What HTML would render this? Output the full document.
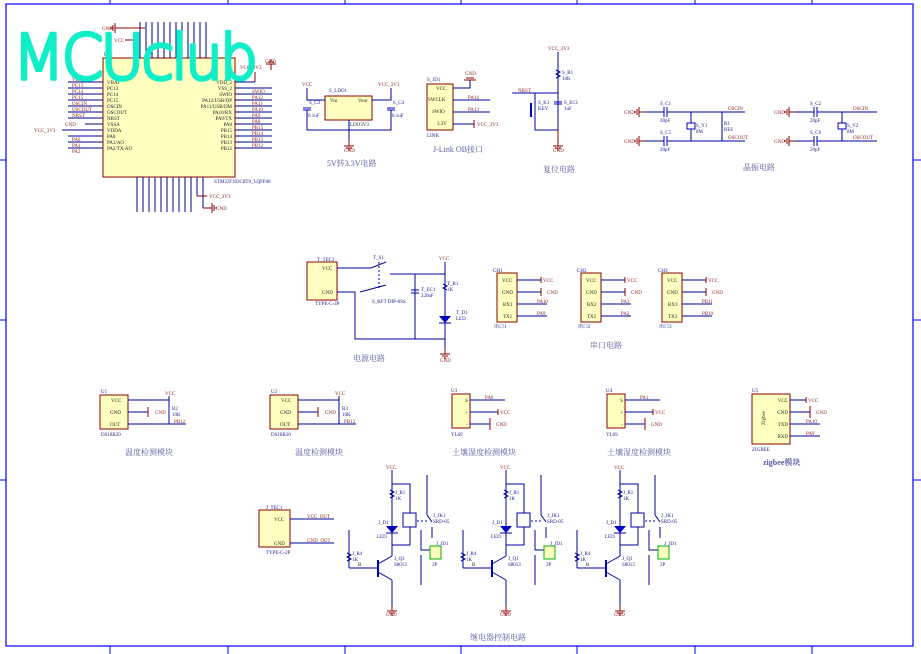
<!DOCTYPE html>
<html><head><meta charset="utf-8"><style>
html,body{margin:0;padding:0;background:#fff;width:921px;height:654px;overflow:hidden}
svg{display:block}
text{font-family:"Liberation Serif","Noto Serif CJK SC",serif}
.r{fill:#8b1a1a;font-size:5px}
.b{fill:#1a1a8b;font-size:5px}
.k{fill:#222;font-size:5px}
.t{fill:#5a5aa0;font-size:8px}
.w{stroke:#0000a0;stroke-width:1;fill:none}
.p{stroke:#000080;stroke-width:1}
.rd{stroke:#8b0000;stroke-width:1;fill:none}
.box{fill:#ffffc0;stroke:#8b0000;stroke-width:1}
</style></head><body>
<svg width="921" height="654" viewBox="0 0 921 654">
<defs>
<g id="gndv"><line x1="0" y1="0" x2="0" y2="6" class="rd"/><line x1="-5" y1="6" x2="5" y2="6" class="rd"/><line x1="-3" y1="8" x2="3" y2="8" class="rd"/><line x1="-1" y1="10" x2="1" y2="10" class="rd"/></g>
<g id="gndh"><line x1="0" y1="0" x2="-6" y2="0" class="rd"/><line x1="-6" y1="-5" x2="-6" y2="5" class="rd"/><line x1="-8" y1="-3" x2="-8" y2="3" class="rd"/><line x1="-10" y1="-1" x2="-10" y2="1" class="rd"/></g>
<g id="gndr"><line x1="0" y1="0" x2="6" y2="0" class="rd"/><line x1="6" y1="-5" x2="6" y2="5" class="rd"/><line x1="8" y1="-3" x2="8" y2="3" class="rd"/><line x1="10" y1="-1" x2="10" y2="1" class="rd"/></g>
<g id="relay">
<text x="386" y="469" class="r">VCC</text>
<line x1="392" y1="470" x2="392" y2="548" class="w"/>
<polyline points="392,484 410,484 410,513" class="w"/>
<rect x="403" y="513" width="13" height="14" fill="none" stroke="#0000a0"/>
<polyline points="410,527 410,545 392,545" class="w"/>
<path d="M390,490 l4,2 l-4,2 l4,2 l-4,2" class="w"/>
<text x="395" y="494" class="b">J_R1</text><text x="395" y="500" class="b">1K</text>
<path d="M386,526 h12 l-6,7 z" fill="#0000c0"/><line x1="386" y1="533" x2="398" y2="533" class="w"/>
<text x="378" y="524" class="b">J_D1</text><text x="377" y="538" class="b">LED</text>
<line x1="378" y1="560" x2="378" y2="577" stroke="#0000c0" stroke-width="2"/>
<line x1="349" y1="530" x2="349" y2="568" class="w"/><line x1="349" y1="568" x2="378" y2="568" class="w"/>
<path d="M347,553 l4,2 l-4,2 l4,2 l-4,2" class="w"/>
<text x="352" y="555" class="b">J_R4</text><text x="352" y="561" class="b">1K</text><text x="358" y="566" class="k">B</text>
<line x1="378" y1="564" x2="392" y2="556" class="w"/><line x1="392" y1="556" x2="392" y2="545" class="w"/>
<line x1="378" y1="572" x2="392" y2="580" class="w"/><line x1="392" y1="580" x2="392" y2="605" class="w"/>
<use href="#gndv" x="392" y="605"/><text x="386" y="616" class="r">GND</text>
<text x="394" y="560" class="b">J_Q1</text><text x="394" y="566" class="b">S8013</text>
<line x1="427" y1="475" x2="427" y2="515" class="w"/><line x1="427" y1="515" x2="432" y2="522" class="w"/>
<line x1="417" y1="521" x2="428" y2="521" stroke="#0000c0" stroke-dasharray="2,2"/>
<line x1="432" y1="527" x2="432" y2="538" class="w"/>
<text x="433" y="517" class="b">J_JK1</text><text x="433" y="523" class="b">SRD-05</text>
<polyline points="421,530 421,550 430,550" class="w"/><polyline points="421,555 421,585" class="w"/>
<rect x="430" y="546" width="11" height="13" fill="#ffffc0" stroke="#00b000"/>
<text x="436" y="545" class="b">J_JD1</text><text x="432" y="566" class="b">2P</text>
</g>
</defs>
<!-- frame -->
<rect x="6" y="4" width="907" height="642" fill="none" stroke="#0000ff" stroke-width="1.2"/>
<g stroke="#0000ff" stroke-width="1">
<line x1="110" y1="0" x2="110" y2="4"/><line x1="228" y1="0" x2="228" y2="4"/><line x1="345" y1="0" x2="345" y2="4"/><line x1="461" y1="0" x2="461" y2="4"/><line x1="577" y1="0" x2="577" y2="4"/><line x1="695" y1="0" x2="695" y2="4"/><line x1="812" y1="0" x2="812" y2="4"/>
<line x1="110" y1="646" x2="110" y2="654"/><line x1="228" y1="646" x2="228" y2="654"/><line x1="345" y1="646" x2="345" y2="654"/><line x1="461" y1="646" x2="461" y2="654"/><line x1="577" y1="646" x2="577" y2="654"/><line x1="695" y1="646" x2="695" y2="654"/><line x1="812" y1="646" x2="812" y2="654"/>
<line x1="0" y1="160" x2="6" y2="160"/><line x1="0" y1="320" x2="6" y2="320"/><line x1="0" y1="480" x2="6" y2="480"/>
<line x1="913" y1="160" x2="921" y2="160"/><line x1="913" y1="320" x2="921" y2="320"/><line x1="913" y1="480" x2="921" y2="480"/>
</g>
<!-- MCU -->
<rect x="103" y="58" width="132" height="119" class="box"/>
<text x="104" y="56" class="b">U1</text><text x="214" y="183" class="b">STM32F103C8T6_LQFP48</text>
<g class="p">
<line x1="68" y1="82" x2="103" y2="82"/><line x1="68" y1="88" x2="103" y2="88"/><line x1="68" y1="94" x2="103" y2="94"/><line x1="68" y1="100" x2="103" y2="100"/><line x1="68" y1="106" x2="103" y2="106"/><line x1="68" y1="112" x2="103" y2="112"/><line x1="68" y1="118" x2="103" y2="118"/><line x1="85" y1="124" x2="103" y2="124"/><line x1="62" y1="130" x2="103" y2="130"/><line x1="68" y1="136" x2="103" y2="136"/><line x1="68" y1="142" x2="103" y2="142"/><line x1="68" y1="148" x2="103" y2="148"/>
<line x1="235" y1="82" x2="255" y2="82"/><line x1="235" y1="88" x2="272" y2="88"/><line x1="235" y1="94" x2="272" y2="94"/><line x1="235" y1="100" x2="272" y2="100"/><line x1="235" y1="106" x2="272" y2="106"/><line x1="235" y1="112" x2="272" y2="112"/><line x1="235" y1="118" x2="272" y2="118"/><line x1="235" y1="124" x2="272" y2="124"/><line x1="235" y1="130" x2="272" y2="130"/><line x1="235" y1="136" x2="272" y2="136"/><line x1="235" y1="142" x2="272" y2="142"/><line x1="235" y1="148" x2="272" y2="148"/>
<line x1="140" y1="22" x2="140" y2="58"/><line x1="146" y1="22" x2="146" y2="58"/><line x1="152" y1="22" x2="152" y2="58"/><line x1="158" y1="22" x2="158" y2="58"/><line x1="164" y1="22" x2="164" y2="58"/><line x1="170" y1="22" x2="170" y2="58"/><line x1="176" y1="22" x2="176" y2="58"/><line x1="182" y1="22" x2="182" y2="58"/><line x1="188" y1="22" x2="188" y2="58"/><line x1="194" y1="22" x2="194" y2="58"/><line x1="200" y1="22" x2="200" y2="58"/><line x1="206" y1="22" x2="206" y2="58"/>
<line x1="137" y1="177" x2="137" y2="212"/><line x1="143" y1="177" x2="143" y2="212"/><line x1="149" y1="177" x2="149" y2="212"/><line x1="155" y1="177" x2="155" y2="212"/><line x1="161" y1="177" x2="161" y2="212"/><line x1="167" y1="177" x2="167" y2="212"/><line x1="173" y1="177" x2="173" y2="212"/><line x1="179" y1="177" x2="179" y2="212"/><line x1="185" y1="177" x2="185" y2="212"/><line x1="191" y1="177" x2="191" y2="212"/><line x1="197" y1="177" x2="197" y2="196"/><line x1="203" y1="177" x2="203" y2="208"/>
</g>
<polyline points="197,196 207,196" class="rd"/><text x="209" y="198" class="r">VCC_3V3</text>
<polyline points="203,208 208,208" class="rd"/><use href="#gndr" x="206" y="208"/><text x="216" y="210" class="r">GND</text>
<g class="k">
<text x="107" y="84">VBAT</text><text x="107" y="90">PC13</text><text x="107" y="96">PC14</text><text x="107" y="102">PC15</text><text x="107" y="108">OSCIN</text><text x="107" y="114">OSCOUT</text><text x="107" y="120">NRST</text><text x="107" y="126">VSSA</text><text x="107" y="132">VDDA</text><text x="107" y="138">PA0</text><text x="107" y="144">PA1/AO</text><text x="107" y="150">PA2/TX/AO</text>
<g text-anchor="end"><text x="232" y="84">VDD_2</text><text x="232" y="90">VSS_2</text><text x="232" y="96">SWIO</text><text x="232" y="102">PA12/USB/DP</text><text x="232" y="108">PA11/USB/DM</text><text x="232" y="114">PA10/RX</text><text x="232" y="120">PA9/TX</text><text x="232" y="126">PA8</text><text x="232" y="132">PB15</text><text x="232" y="138">PB14</text><text x="232" y="144">PB13</text><text x="232" y="150">PB12</text></g>
</g>
<g class="r">
<text x="72" y="81">VBAT</text><text x="72" y="87">PC13</text><text x="72" y="93">PC14</text><text x="72" y="99">PC15</text><text x="72" y="105">OSCIN</text><text x="72" y="111">OSCOUT</text><text x="72" y="117">NRST</text><text x="72" y="141">PA0</text><text x="72" y="147">PA1</text><text x="72" y="153">PA2</text>
<text x="34" y="132">VCC_3V3</text><text x="65" y="126">GND</text>
<text x="252" y="93">SWIO</text><text x="252" y="99">PA12</text><text x="252" y="105">PA11</text><text x="252" y="111">PA10</text><text x="252" y="117">PA9</text><text x="252" y="123">PA8</text><text x="252" y="129">PB15</text><text x="252" y="135">PB14</text><text x="252" y="141">PB13</text><text x="252" y="147">PB12</text>
<text x="240" y="69">VCC_3V3</text><text x="265" y="63">GND</text>
<text x="102" y="30">GND</text><text x="114" y="42">VCC</text>
</g>
<use href="#gndh" x="121" y="28"/><line x1="121" y1="28" x2="145" y2="28" class="rd"/>
<line x1="125" y1="40" x2="135" y2="40" class="rd"/>
<use href="#gndv" x="271" y="62" transform="rotate(180 271 66)"/>
<line x1="255" y1="82" x2="255" y2="72" class="rd"/>
<!-- MCUclub -->
<text x="13" y="79" style="font-family:'DejaVu Sans','Liberation Sans',sans-serif;font-size:62px;font-weight:300" fill="#10eec8" stroke="#10eec8" stroke-width="3.5" stroke-linejoin="round" letter-spacing="-3" textLength="242" lengthAdjust="spacingAndGlyphs">MCUclub</text>
<!-- LDO -->
<rect x="325" y="96" width="47" height="24" class="box"/>
<text x="329" y="92" class="b">S_LDO1</text><text x="330" y="102" class="k">Vin</text><text x="358" y="102" class="k">Vout</text><text x="350" y="126" class="k">LDO3V3</text>
<text x="302" y="86" class="r">VCC</text><text x="378" y="86" class="r">VCC_3V3</text>
<polyline points="307,88 307,100 325,100" class="w"/><polyline points="372,100 391,100 391,88" class="w"/>
<line x1="303" y1="108" x2="311" y2="108" stroke="#0000c0"/><line x1="303" y1="110" x2="311" y2="110" stroke="#0000c0"/>
<line x1="387" y1="108" x2="395" y2="108" stroke="#0000c0"/><line x1="387" y1="110" x2="395" y2="110" stroke="#0000c0"/>
<polyline points="307,110 307,130 391,130 391,110" class="w"/><line x1="349" y1="120" x2="349" y2="140" class="w"/>
<use href="#gndv" x="349" y="140"/><text x="344" y="152" class="r">GND</text>
<text x="309" y="104" class="b">S_C3</text><text x="308" y="117" class="b">0.1uF</text><text x="393" y="104" class="b">S_C4</text><text x="392" y="117" class="b">0.1uF</text>
<text x="327" y="166" class="t">5V转3.3V电路</text>
<!-- JLink -->
<rect x="427" y="84" width="26" height="46" class="box"/>
<text x="427" y="81" class="b">S_JD1</text><text x="427" y="137" class="b">LINK</text>
<g class="k"><text x="436" y="90">VCC</text><text x="428" y="101">SWCLK</text><text x="432" y="113">SWIO</text><text x="437" y="125">3.3V</text></g>
<polyline points="453,88 470,88 470,80" class="w"/><line x1="453" y1="100" x2="490" y2="100" class="w"/><line x1="453" y1="112" x2="490" y2="112" class="w"/><line x1="453" y1="124" x2="474" y2="124" class="w"/>
<line x1="464" y1="80" x2="476" y2="80" class="rd"/><line x1="466" y1="78" x2="474" y2="78" class="rd"/><text x="465" y="75" class="r">GND</text>
<text x="468" y="99" class="r">PA14</text><text x="468" y="111" class="r">PA13</text><line x1="474" y1="120" x2="474" y2="128" class="rd"/><text x="477" y="126" class="r">VCC_3V3</text>
<text x="433" y="152" class="t">J-Link OB接口</text>
<!-- Reset -->
<text x="548" y="50" class="r">VCC_3V3</text>
<line x1="558" y1="52" x2="558" y2="130" class="w"/><path d="M556,70 l4,2 l-4,2 l4,2 l-4,2" class="w"/>
<text x="562" y="74" class="b">S_R1</text><text x="562" y="80" class="b">10K</text>
<line x1="512" y1="93" x2="558" y2="93" class="w"/><text x="518" y="92" class="r">NRST</text>
<polyline points="535,93 535,130 558,130" class="w"/><line x1="531" y1="103" x2="531" y2="117" stroke="#0000c0" stroke-width="2"/>
<text x="538" y="104" class="b">S_K1</text><text x="538" y="110" class="b">KEY</text>
<line x1="554" y1="102" x2="562" y2="102" stroke="#0000c0"/><line x1="554" y1="104" x2="562" y2="104" stroke="#0000c0"/>
<text x="564" y="104" class="b">S_EC1</text><text x="564" y="110" class="b">1uF</text>
<use href="#gndv" x="558" y="140"/><line x1="558" y1="130" x2="558" y2="140" class="rd"/><text x="553" y="152" class="r">GND</text>
<text x="543" y="172" class="t">复位电路</text>
<!-- crystal -->
<g>
<use href="#gndh" x="645" y="112"/><use href="#gndh" x="645" y="141"/><text x="624" y="114" class="r">GND</text><text x="624" y="143" class="r">GND</text>
<line x1="645" y1="112" x2="664" y2="112" class="w"/><line x1="667" y1="112" x2="745" y2="112" class="w"/>
<line x1="645" y1="141" x2="664" y2="141" class="w"/><line x1="667" y1="141" x2="745" y2="141" class="w"/>
<line x1="664" y1="107" x2="664" y2="117" stroke="#0000c0"/><line x1="667" y1="107" x2="667" y2="117" stroke="#0000c0"/>
<line x1="664" y1="136" x2="664" y2="146" stroke="#0000c0"/><line x1="667" y1="136" x2="667" y2="146" stroke="#0000c0"/>
<line x1="691" y1="112" x2="691" y2="141" class="w"/><rect x="687" y="123" width="8" height="6" fill="#fff" stroke="#0000c0"/>
<line x1="722" y1="112" x2="722" y2="141" class="w"/>
<text x="660" y="105" class="b">S_C1</text><text x="660" y="122" class="b">20pF</text><text x="660" y="134" class="b">S_C5</text><text x="660" y="151" class="b">20pF</text>
<text x="696" y="127" class="b">S_Y1</text><text x="696" y="133" class="b">8M</text><text x="724" y="125" class="b">R1</text><text x="724" y="131" class="b">RES</text>
<text x="728" y="110" class="r">OSCIN</text><text x="728" y="139" class="r">OSCOUT</text>
<use href="#gndh" x="795" y="112"/><use href="#gndh" x="795" y="141"/><text x="774" y="114" class="r">GND</text><text x="774" y="143" class="r">GND</text>
<line x1="795" y1="112" x2="814" y2="112" class="w"/><line x1="817" y1="112" x2="877" y2="112" class="w"/>
<line x1="795" y1="141" x2="814" y2="141" class="w"/><line x1="817" y1="141" x2="877" y2="141" class="w"/>
<line x1="814" y1="107" x2="814" y2="117" stroke="#0000c0"/><line x1="817" y1="107" x2="817" y2="117" stroke="#0000c0"/>
<line x1="814" y1="136" x2="814" y2="146" stroke="#0000c0"/><line x1="817" y1="136" x2="817" y2="146" stroke="#0000c0"/>
<line x1="842" y1="112" x2="842" y2="141" class="w"/><rect x="838" y="123" width="8" height="6" fill="#fff" stroke="#0000c0"/>
<text x="810" y="105" class="b">S_C2</text><text x="810" y="122" class="b">20pF</text><text x="810" y="134" class="b">S_C6</text><text x="810" y="151" class="b">20pF</text>
<text x="847" y="127" class="b">S_Y2</text><text x="847" y="133" class="b">8M</text>
<text x="853" y="110" class="r">OSCIN</text><text x="853" y="139" class="r">OSCOUT</text>
<text x="743" y="170" class="t">晶振电路</text>
</g>
<!-- power -->
<rect x="307" y="262" width="30" height="38" class="box"/>
<text x="317" y="261" class="b">T_TEC1</text><text x="315" y="305" class="b">TYPE-C-2P</text>
<text x="322" y="270" class="k">VCC</text><text x="322" y="294" class="k">GND</text>
<line x1="337" y1="268" x2="371" y2="268" class="w"/>
<polyline points="337,292 355,292 355,339 445,339" class="w"/>
<line x1="371" y1="268" x2="386" y2="262" class="w"/><line x1="360" y1="292" x2="386" y2="285" class="w"/>
<line x1="379" y1="262" x2="379" y2="290" stroke="#0000c0" stroke-dasharray="2,2"/>
<line x1="390" y1="274" x2="445" y2="274" class="w"/>
<text x="373" y="259" class="b">T_S1</text><text x="372" y="303" class="b">S_KFT DIP-8SS</text>
<line x1="415" y1="274" x2="415" y2="339" class="w"/><line x1="411" y1="290" x2="419" y2="290" stroke="#0000c0"/><line x1="411" y1="293" x2="419" y2="293" stroke="#0000c0"/>
<text x="421" y="291" class="b">T_EC1</text><text x="421" y="297" class="b">220uF</text>
<text x="439" y="260" class="r">VCC</text><line x1="445" y1="262" x2="445" y2="348" class="w"/>
<text x="447" y="285" class="b">T_R1</text><text x="447" y="291" class="b">1K</text><path d="M443,284 l4,2 l-4,2 l4,2" class="w"/>
<path d="M439,316 h12 l-6,7 z" fill="#0000c0"/><line x1="439" y1="323" x2="451" y2="323" class="w"/>
<text x="456" y="314" class="b">T_D1</text><text x="456" y="320" class="b">LED</text>
<use href="#gndv" x="445" y="348"/><text x="440" y="362" class="r">GND</text>
<text x="353" y="361" class="t">电源电路</text>
<!-- serial -->
<g>
<rect x="497" y="273" width="20" height="49" class="box"/><text x="493" y="272" class="b">CH1</text><text x="494" y="328" class="b">串口1</text>
<g class="k"><text x="502" y="282">VCC</text><text x="502" y="294">GND</text><text x="503" y="306">RX1</text><text x="503" y="318">TX1</text></g>
<line x1="517" y1="280" x2="541" y2="280" class="w"/><line x1="517" y1="292" x2="541" y2="292" class="w"/><line x1="517" y1="304" x2="547" y2="304" class="w"/><line x1="517" y1="316" x2="547" y2="316" class="w"/>
<line x1="541" y1="277" x2="541" y2="283" class="rd"/><text x="543" y="282" class="r">VCC</text><line x1="541" y1="288" x2="541" y2="296" class="rd"/><text x="547" y="294" class="r">GND</text><text x="537" y="303" class="r">PA10</text><text x="537" y="315" class="r">PA9</text>
</g>
<g transform="translate(84,0)">
<rect x="497" y="273" width="20" height="49" class="box"/><text x="493" y="272" class="b">CH2</text><text x="494" y="328" class="b">串口2</text>
<g class="k"><text x="502" y="282">VCC</text><text x="502" y="294">GND</text><text x="503" y="306">RX2</text><text x="503" y="318">TX2</text></g>
<line x1="517" y1="280" x2="541" y2="280" class="w"/><line x1="517" y1="292" x2="541" y2="292" class="w"/><line x1="517" y1="304" x2="547" y2="304" class="w"/><line x1="517" y1="316" x2="547" y2="316" class="w"/>
<line x1="541" y1="277" x2="541" y2="283" class="rd"/><text x="543" y="282" class="r">VCC</text><line x1="541" y1="288" x2="541" y2="296" class="rd"/><text x="547" y="294" class="r">GND</text><text x="537" y="303" class="r">PA3</text><text x="537" y="315" class="r">PA2</text>
</g>
<g transform="translate(165,0)">
<rect x="497" y="273" width="20" height="49" class="box"/><text x="493" y="272" class="b">CH3</text><text x="494" y="328" class="b">串口3</text>
<g class="k"><text x="502" y="282">VCC</text><text x="502" y="294">GND</text><text x="503" y="306">RX3</text><text x="503" y="318">TX3</text></g>
<line x1="517" y1="280" x2="541" y2="280" class="w"/><line x1="517" y1="292" x2="541" y2="292" class="w"/><line x1="517" y1="304" x2="547" y2="304" class="w"/><line x1="517" y1="316" x2="547" y2="316" class="w"/>
<line x1="541" y1="277" x2="541" y2="283" class="rd"/><text x="543" y="282" class="r">VCC</text><line x1="541" y1="288" x2="541" y2="296" class="rd"/><text x="547" y="294" class="r">GND</text><text x="537" y="303" class="r">PB11</text><text x="537" y="315" class="r">PB10</text>
</g>
<text x="590" y="348" class="t">串口电路</text>
<!-- sensors -->
<g>
<rect x="100" y="395" width="28" height="34" class="box"/><text x="101" y="393" class="b">U1</text><text x="101" y="436" class="b">DS18B20</text>
<g class="k"><text x="111" y="402">VCC</text><text x="110" y="414">GND</text><text x="110" y="426">OUT</text></g>
<line x1="128" y1="400" x2="169" y2="400" class="w"/><line x1="128" y1="412" x2="148" y2="412" class="w"/><line x1="128" y1="424" x2="186" y2="424" class="w"/>
<line x1="148" y1="407" x2="148" y2="417" class="rd"/><text x="155" y="414" class="r">GND</text>
<line x1="169" y1="396" x2="169" y2="424" class="w"/><text x="165" y="395" class="r">VCC</text><text x="172" y="410" class="b">R2</text><text x="172" y="416" class="b">10K</text><text x="174" y="423" class="r">PB12</text>
<text x="125" y="455" class="t">温度检测模块</text>
</g>
<g transform="translate(170,0)">
<rect x="100" y="395" width="28" height="34" class="box"/><text x="101" y="393" class="b">U2</text><text x="101" y="436" class="b">DS18B20</text>
<g class="k"><text x="111" y="402">VCC</text><text x="110" y="414">GND</text><text x="110" y="426">OUT</text></g>
<line x1="128" y1="400" x2="169" y2="400" class="w"/><line x1="128" y1="412" x2="148" y2="412" class="w"/><line x1="128" y1="424" x2="186" y2="424" class="w"/>
<line x1="148" y1="407" x2="148" y2="417" class="rd"/><text x="155" y="414" class="r">GND</text>
<line x1="169" y1="396" x2="169" y2="424" class="w"/><text x="165" y="395" class="r">VCC</text><text x="172" y="410" class="b">R3</text><text x="172" y="416" class="b">10K</text><text x="174" y="423" class="r">PB13</text>
<text x="125" y="455" class="t">温度检测模块</text>
</g>
<g>
<rect x="452" y="394" width="18" height="34" class="box"/><text x="451" y="392" class="b">U3</text><text x="451" y="436" class="b">YL69</text>
<g class="k"><text x="468" y="402" text-anchor="end">S</text><text x="468" y="414" text-anchor="end">+</text><text x="468" y="426" text-anchor="end">-</text></g>
<line x1="470" y1="400" x2="505" y2="400" class="w"/><line x1="470" y1="412" x2="498" y2="412" class="w"/><line x1="470" y1="424" x2="490" y2="424" class="w"/>
<text x="485" y="399" class="r">PA0</text><line x1="498" y1="409" x2="498" y2="415" class="rd"/><text x="500" y="414" class="r">VCC</text><line x1="490" y1="418" x2="490" y2="430" class="rd"/><text x="496" y="426" class="r">GND</text>
<text x="452" y="455" class="t">土壤湿度检测模块</text>
</g>
<g transform="translate(155,0)">
<rect x="452" y="394" width="18" height="34" class="box"/><text x="451" y="392" class="b">U4</text><text x="451" y="436" class="b">YL69</text>
<g class="k"><text x="468" y="402" text-anchor="end">S</text><text x="468" y="414" text-anchor="end">+</text><text x="468" y="426" text-anchor="end">-</text></g>
<line x1="470" y1="400" x2="505" y2="400" class="w"/><line x1="470" y1="412" x2="498" y2="412" class="w"/><line x1="470" y1="424" x2="490" y2="424" class="w"/>
<text x="485" y="399" class="r">PA1</text><line x1="498" y1="409" x2="498" y2="415" class="rd"/><text x="500" y="414" class="r">VCC</text><line x1="490" y1="418" x2="490" y2="430" class="rd"/><text x="496" y="426" class="r">GND</text>
<text x="452" y="455" class="t">土壤湿度检测模块</text>
</g>
<g>
<rect x="752" y="394" width="38" height="50" class="box"/><text x="752" y="392" class="b">U5</text><text x="752" y="451" class="b">ZIGBEE</text>
<text x="765" y="425" class="k" transform="rotate(-90 765 425)" font-size="4">Zigbee</text>
<g class="k" text-anchor="end"><text x="788" y="402">VCC</text><text x="788" y="414">GND</text><text x="788" y="426">TXD</text><text x="788" y="438">RXD</text></g>
<line x1="790" y1="400" x2="806" y2="400" class="w"/><line x1="790" y1="412" x2="810" y2="412" class="w"/><line x1="790" y1="424" x2="820" y2="424" class="w"/><line x1="790" y1="436" x2="820" y2="436" class="w"/>
<line x1="806" y1="397" x2="806" y2="403" class="rd"/><text x="808" y="402" class="r">VCC</text><line x1="810" y1="406" x2="810" y2="418" class="rd"/><text x="816" y="414" class="r">GND</text><text x="806" y="423" class="r">PA10</text><text x="806" y="435" class="r">PA9</text>
<text x="763" y="465" class="t" font-weight="bold">zigbee模块</text>
</g>
<!-- relay -->
<rect x="259" y="510" width="31" height="37" class="box"/><text x="266" y="509" class="b">J_TEC1</text><text x="266" y="554" class="b">TYPE-C-2P</text>
<text x="274" y="521" class="k">VCC</text><text x="274" y="545" class="k">GND</text>
<line x1="290" y1="519" x2="334" y2="519" class="w"/><line x1="290" y1="543" x2="334" y2="543" class="w"/>
<text x="307" y="518" class="r">VCC_OUT</text><text x="307" y="542" class="r">GND_OUT</text>
<use href="#relay"/>
<use href="#relay" x="114"/>
<use href="#relay" x="228"/>
<text x="470" y="640" class="t">继电器控制电路</text>
</svg>
</body></html>
